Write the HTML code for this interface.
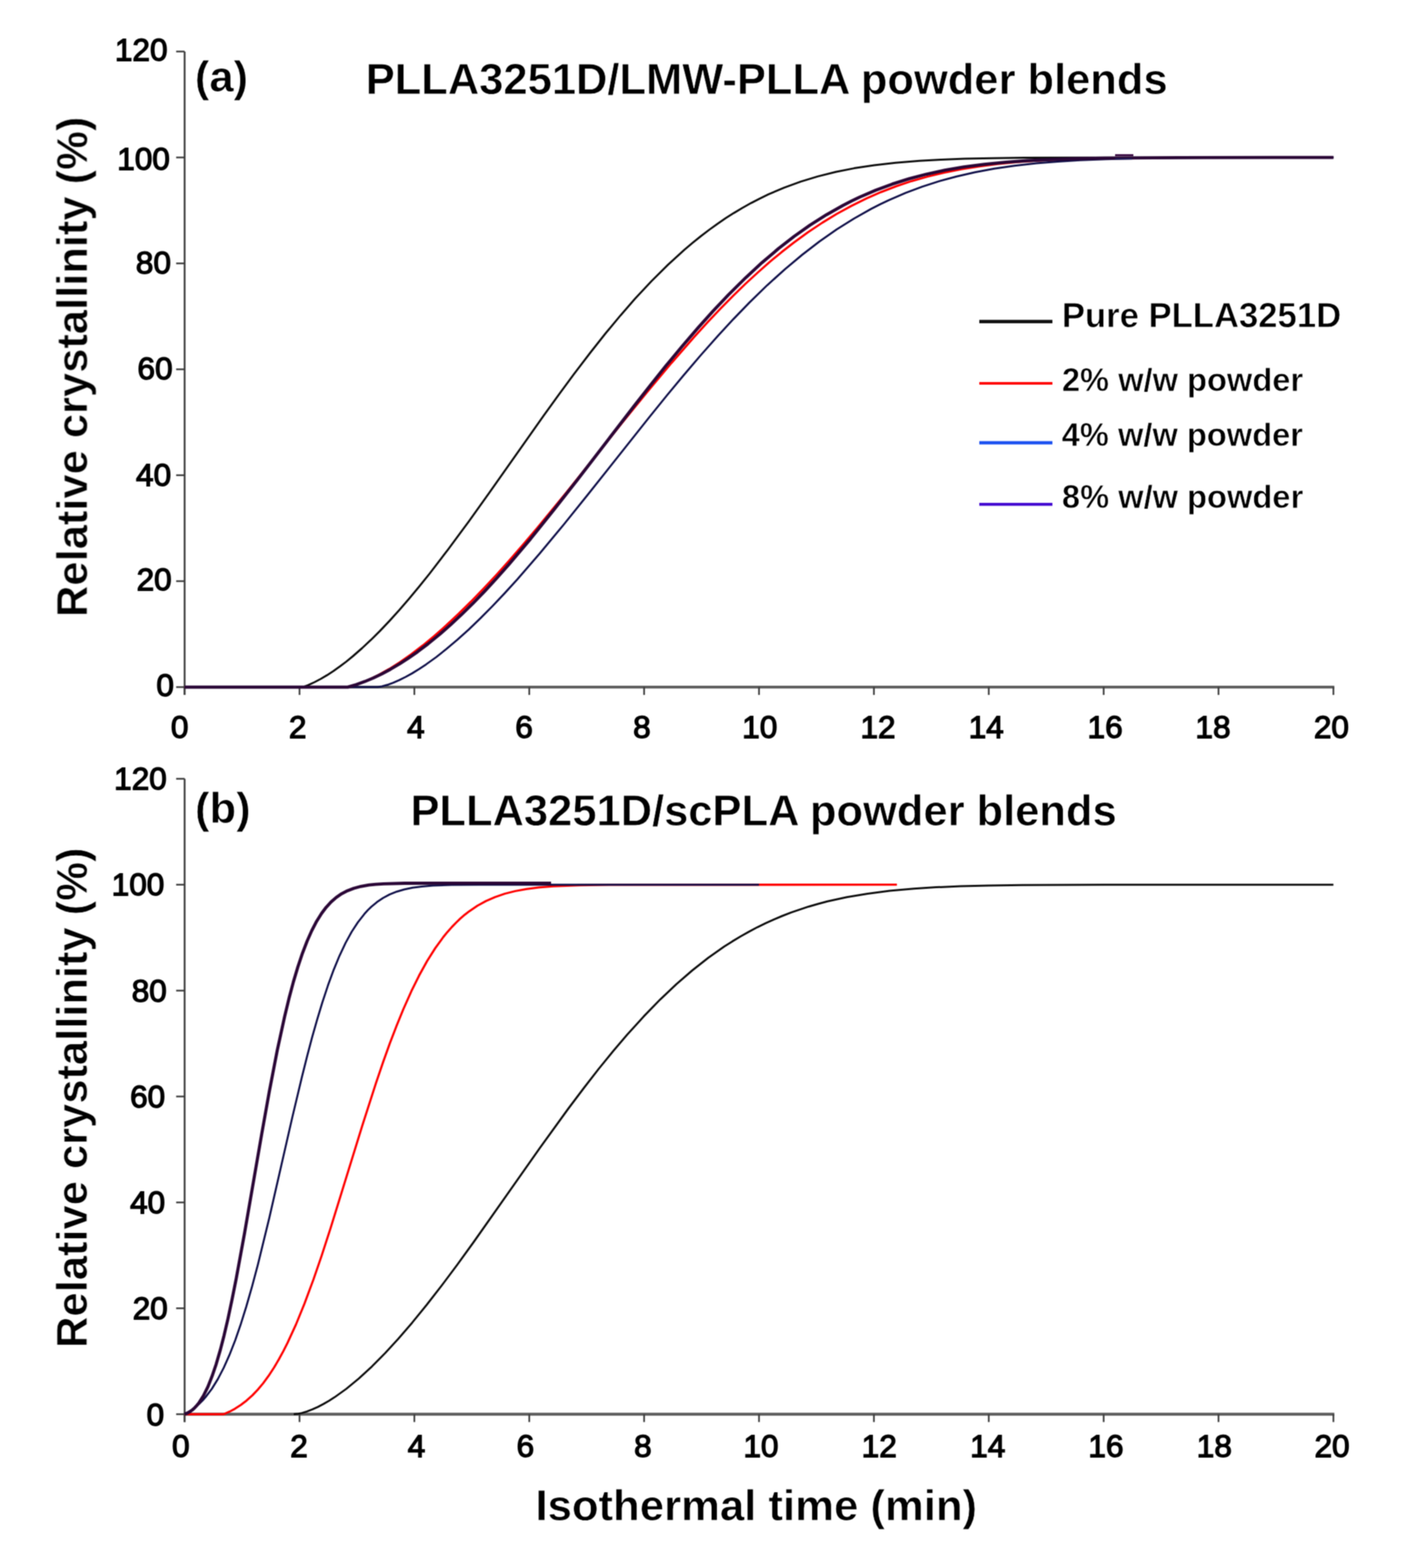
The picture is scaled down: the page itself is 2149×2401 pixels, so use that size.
<!DOCTYPE html>
<html><head><meta charset="utf-8"><title>Relative crystallinity vs isothermal time</title>
<style>html,body{margin:0;padding:0;background:#fff;}svg{display:block;}</style>
</head><body>
<svg width="2149" height="2401" viewBox="0 0 2149 2401"><defs><filter id="soft" x="0" y="0" width="2149" height="2401" filterUnits="userSpaceOnUse" color-interpolation-filters="sRGB"><feConvolveMatrix order="3" kernelMatrix="1 2 1 2 4 2 1 2 1" divisor="16.0" edgeMode="duplicate"/></filter></defs><rect width="2149" height="2401" fill="#fff"/><g filter="url(#soft)"><path d="M282.8,78.9 V1064.1" stroke="#3c3c3c" stroke-width="2.8" fill="none"/><path d="M281.40000000000003,1052.1 H2043.8" stroke="#5c5c5c" stroke-width="4.4" fill="none"/><path d="M269.8,1052.1 H282.8" stroke="#3c3c3c" stroke-width="2.6"/><path d="M269.8,889.9 H282.8" stroke="#3c3c3c" stroke-width="2.6"/><path d="M269.8,727.7 H282.8" stroke="#3c3c3c" stroke-width="2.6"/><path d="M269.8,565.5 H282.8" stroke="#3c3c3c" stroke-width="2.6"/><path d="M269.8,403.3 H282.8" stroke="#3c3c3c" stroke-width="2.6"/><path d="M269.8,241.1 H282.8" stroke="#3c3c3c" stroke-width="2.6"/><path d="M269.8,78.9 H282.8" stroke="#3c3c3c" stroke-width="2.6"/><path d="M282.8,1052.1 V1064.1" stroke="#3c3c3c" stroke-width="2.6"/><path d="M458.8,1052.1 V1064.1" stroke="#3c3c3c" stroke-width="2.6"/><path d="M634.7,1052.1 V1064.1" stroke="#3c3c3c" stroke-width="2.6"/><path d="M810.7,1052.1 V1064.1" stroke="#3c3c3c" stroke-width="2.6"/><path d="M986.6,1052.1 V1064.1" stroke="#3c3c3c" stroke-width="2.6"/><path d="M1162.6,1052.1 V1064.1" stroke="#3c3c3c" stroke-width="2.6"/><path d="M1338.6,1052.1 V1064.1" stroke="#3c3c3c" stroke-width="2.6"/><path d="M1514.5,1052.1 V1064.1" stroke="#3c3c3c" stroke-width="2.6"/><path d="M1690.5,1052.1 V1064.1" stroke="#3c3c3c" stroke-width="2.6"/><path d="M1866.4,1052.1 V1064.1" stroke="#3c3c3c" stroke-width="2.6"/><path d="M2042.4,1052.1 V1064.1" stroke="#3c3c3c" stroke-width="2.6"/><path d="M282.8,1052.1 464.0,1052.1 472.5,1048.9 481.9,1044.5 491.4,1039.5 500.9,1033.9 510.4,1027.8 520.9,1020.3 530.4,1013.1 540.9,1004.5 554.6,992.5 568.3,979.7 582.0,966.1 596.7,950.6 611.5,934.3 626.2,917.2 642.0,898.3 657.8,878.6 686.2,841.6 717.8,798.8 749.4,754.6 832.6,636.7 856.8,603.1 878.9,573.1 904.2,540.0 927.3,510.8 950.5,482.9 972.6,457.6 997.9,430.5 1023.2,405.4 1048.4,382.4 1061.1,371.7 1073.7,361.5 1086.3,351.9 1099.0,342.7 1111.6,334.1 1124.2,326.1 1136.9,318.5 1150.6,310.8 1163.2,304.3 1176.9,297.7 1201.1,287.3 1226.4,278.1 1252.7,270.1 1280.1,263.3 1308.5,257.6 1339.0,253.0 1371.7,249.2 1408.5,246.3 1441.2,244.5 1478.0,243.1 1520.1,242.2 1569.6,241.6 1692.8,241.2 2042.4,241.1" stroke="#0a0a0a" stroke-width="3.0" fill="none" stroke-linejoin="round"/><path d="M282.8,1052.1 532.7,1052.1 540.0,1050.2 547.3,1047.9 562.6,1041.9 579.5,1033.8 596.3,1024.3 613.1,1013.6 629.9,1001.8 647.5,988.4 665.0,973.9 683.3,957.8 702.3,940.0 721.3,921.3 741.1,900.9 760.1,880.5 779.8,858.5 801.1,834.1 823.0,808.3 867.6,754.0 953.9,646.3 990.5,601.3 1028.5,555.8 1063.6,515.7 1084.1,493.2 1103.8,472.4 1122.8,453.1 1141.8,434.6 1160.9,417.1 1179.1,401.0 1197.4,385.9 1215.7,371.6 1237.6,355.6 1259.6,341.0 1281.5,327.6 1304.2,315.2 1326.9,304.0 1349.5,294.1 1372.9,285.1 1396.3,277.3 1420.5,270.5 1446.1,264.3 1472.4,259.1 1499.5,254.8 1528.0,251.2 1558.7,248.2 1592.3,245.9 1628.9,244.1" stroke="#ff0000" stroke-width="3.3" fill="none" stroke-linejoin="round"/><path d="M282.8,1052.1 578.4,1052.1 585.2,1050.9 593.1,1048.8 601.9,1045.6 611.6,1041.4 621.4,1036.5 631.2,1031.1 641.9,1024.5 652.6,1017.4 668.3,1006.1 683.9,993.7 700.5,979.7 718.1,963.8 735.7,946.9 754.2,928.2 772.8,908.6 792.3,887.2 826.5,847.8 863.6,803.1 900.7,757.0 994.5,638.9 1021.8,605.1 1046.2,575.7 1073.6,543.6 1099.0,515.0 1123.4,488.6 1147.8,463.4 1175.1,436.8 1202.5,412.1 1228.9,390.0 1255.2,369.7 1281.6,351.3 1308.0,334.7 1334.3,319.9 1348.0,312.9 1361.7,306.4 1387.1,295.4 1412.5,285.9 1438.8,277.4 1465.2,270.2 1493.5,263.7 1522.8,258.3 1554.1,253.8 1587.3,250.1 1619.5,247.4 1654.7,245.3 1693.7,243.7 1737.7,242.6 1845.1,241.4 2042.4,241.1" stroke="#0e0e48" stroke-width="3.0" fill="none" stroke-linejoin="round"/><path d="M282.8,1052.1 532.7,1052.1 545.8,1048.3 558.8,1043.6 571.9,1038.1 585.0,1031.8 598.1,1024.8 612.2,1016.5 625.3,1008.0 639.4,998.2 655.5,986.0 672.7,972.0 689.8,957.0 706.9,941.1 724.0,924.3 742.2,905.5 760.3,885.9 779.4,864.3 812.7,825.1 848.9,780.1 884.2,734.9 971.8,621.0 997.0,588.9 1020.1,560.1 1045.3,529.7 1069.5,501.6 1092.6,475.8 1115.8,451.4 1142.0,425.4 1167.2,402.1 1192.4,380.7 1216.5,361.9 1240.7,344.8 1265.9,328.8 1291.1,314.6 1304.1,307.9 1317.2,301.6 1341.4,291.2 1366.6,281.9 1392.8,273.6 1419.0,266.8 1447.2,260.7 1476.4,255.7 1507.6,251.6 1540.8,248.3 1573.1,246.0 1608.3,244.3 1647.6,243.0 1692.9,242.1 1805.7,241.3 2042.4,241.1" stroke="#2a0636" stroke-width="4.8" fill="none" stroke-linejoin="round"/><path d="M1708,237.6 H1736" stroke="#3a0a42" stroke-width="3"/><path d="M1708,243.2 H1734" stroke="#1c1c58" stroke-width="2"/><path d="M282.8,1192.5 V2177.5" stroke="#3c3c3c" stroke-width="2.8" fill="none"/><path d="M281.40000000000003,2165.5 H2043.8" stroke="#5c5c5c" stroke-width="4.4" fill="none"/><path d="M269.8,2165.5 H282.8" stroke="#3c3c3c" stroke-width="2.6"/><path d="M269.8,2003.3 H282.8" stroke="#3c3c3c" stroke-width="2.6"/><path d="M269.8,1841.2 H282.8" stroke="#3c3c3c" stroke-width="2.6"/><path d="M269.8,1679.0 H282.8" stroke="#3c3c3c" stroke-width="2.6"/><path d="M269.8,1516.9 H282.8" stroke="#3c3c3c" stroke-width="2.6"/><path d="M269.8,1354.7 H282.8" stroke="#3c3c3c" stroke-width="2.6"/><path d="M269.8,1192.5 H282.8" stroke="#3c3c3c" stroke-width="2.6"/><path d="M282.8,2165.5 V2177.5" stroke="#3c3c3c" stroke-width="2.6"/><path d="M458.8,2165.5 V2177.5" stroke="#3c3c3c" stroke-width="2.6"/><path d="M634.7,2165.5 V2177.5" stroke="#3c3c3c" stroke-width="2.6"/><path d="M810.7,2165.5 V2177.5" stroke="#3c3c3c" stroke-width="2.6"/><path d="M986.6,2165.5 V2177.5" stroke="#3c3c3c" stroke-width="2.6"/><path d="M1162.6,2165.5 V2177.5" stroke="#3c3c3c" stroke-width="2.6"/><path d="M1338.6,2165.5 V2177.5" stroke="#3c3c3c" stroke-width="2.6"/><path d="M1514.5,2165.5 V2177.5" stroke="#3c3c3c" stroke-width="2.6"/><path d="M1690.5,2165.5 V2177.5" stroke="#3c3c3c" stroke-width="2.6"/><path d="M1866.4,2165.5 V2177.5" stroke="#3c3c3c" stroke-width="2.6"/><path d="M2042.4,2165.5 V2177.5" stroke="#3c3c3c" stroke-width="2.6"/><path d="M450.0,2165.5 455.1,2165.1 462.5,2163.6 470.0,2161.4 478.4,2158.2 486.9,2154.4 495.4,2149.9 503.9,2145.0 512.4,2139.6 530.5,2126.6 549.6,2110.9 569.8,2092.3 589.9,2072.0 610.1,2050.0 631.3,2025.4 653.6,1998.0 677.0,1967.9 700.4,1936.6 725.8,1901.5 826.7,1758.2 870.2,1698.0 894.7,1665.5 916.9,1636.9 939.2,1609.5 960.5,1584.6 986.0,1556.4 1011.4,1530.3 1035.9,1507.1 1060.3,1486.0 1084.7,1466.8 1109.1,1449.6 1121.9,1441.4 1134.6,1433.8 1147.3,1426.6 1160.1,1419.8 1172.8,1413.6 1185.6,1407.8 1198.3,1402.5 1212.1,1397.2 1238.7,1388.2 1252.5,1384.2 1267.3,1380.3 1297.1,1373.8 1328.9,1368.4 1362.9,1364.1 1400.0,1360.7 1434.0,1358.6 1471.2,1357.1 1514.7,1356.0 1565.7,1355.3 1692.0,1354.8 2042.4,1354.7" stroke="#0a0a0a" stroke-width="3.0" fill="none" stroke-linejoin="round"/><path d="M282.8,2165.5 342.6,2165.5 351.6,2161.6 359.8,2157.2 368.8,2151.4 377.7,2144.6 386.7,2136.5 394.9,2127.9 403.2,2118.0 411.4,2106.8 419.7,2094.2 427.2,2081.4 434.1,2068.8 440.3,2056.5 453.4,2028.0 466.4,1996.1 480.2,1959.0 492.6,1923.0 506.3,1880.8 555.2,1722.8 575.8,1658.7 586.8,1626.4 597.1,1597.6 607.5,1570.6 617.8,1545.4 630.2,1517.6 641.9,1493.9 654.2,1471.6 666.6,1452.0 679.0,1434.9 685.2,1427.3 692.1,1419.5 698.3,1413.1 705.1,1406.5 712.0,1400.6 718.9,1395.3 731.3,1386.9 744.3,1379.7 758.1,1373.7 773.2,1368.5 789.1,1364.5 806.3,1361.3 825.5,1358.8 847.5,1357.1 887.4,1355.5 945.2,1354.8 1373.8,1354.7" stroke="#ff0000" stroke-width="3.3" fill="none" stroke-linejoin="round"/><path d="M282.8,2165.5 288.7,2162.2 294.5,2158.4 299.8,2154.3 305.1,2149.7 310.4,2144.4 315.1,2139.0 324.5,2126.6 333.9,2111.4 342.7,2094.4 351.5,2074.7 360.3,2052.2 368.5,2028.6 377.3,2000.5 386.1,1969.9 394.9,1936.8 412.5,1864.8 447.7,1711.0 462.4,1649.3 470.6,1616.7 478.2,1587.9 485.9,1560.9 493.5,1535.7 502.3,1509.1 511.1,1485.1 519.9,1463.8 529.3,1443.9 538.7,1426.8 548.1,1412.4 558.1,1399.6 563.3,1393.8 568.6,1388.6 577.4,1381.3 586.8,1375.0 596.8,1369.7 608.0,1365.2 619.1,1362.0 632.0,1359.3 646.1,1357.4 663.1,1356.1 691.3,1355.1 733.6,1354.8 1162.6,1354.7" stroke="#0e0e48" stroke-width="3.0" fill="none" stroke-linejoin="round"/><path d="M282.8,2165.5 286.9,2163.8 290.7,2161.7 294.4,2159.1 298.2,2155.7 301.5,2152.1 304.9,2147.9 311.6,2137.3 318.4,2123.6 324.7,2107.7 331.1,2088.9 337.5,2067.0 343.1,2045.3 349.1,2019.7 355.4,1990.0 361.8,1958.0 374.5,1888.7 400.8,1736.8 412.4,1672.0 424.7,1608.2 436.0,1556.5 442.7,1528.7 449.4,1503.5 456.2,1480.8 463.3,1459.6 470.4,1441.1 477.5,1425.1 485.0,1410.7 492.5,1398.8 499.6,1389.3 507.1,1381.1 515.0,1374.2 523.2,1368.6 532.2,1363.9 541.9,1360.2 552.8,1357.3 565.1,1355.2 575.6,1354.1 587.6,1353.3 619.8,1352.5 844.1,1352.3" stroke="#2a0636" stroke-width="4.8" fill="none" stroke-linejoin="round"/><path d="M1500,492.4 H1612" stroke="#111111" stroke-width="5.4"/><path d="M1500,587.0 H1612" stroke="#ff0000" stroke-width="4.2"/><path d="M1500,678.0 H1612" stroke="#1a50f0" stroke-width="4.8"/><path d="M1500,772.2 H1612" stroke="#4208d0" stroke-width="4.4"/><g font-family="'Liberation Sans', Arial, Helvetica, sans-serif" font-weight="bold" fill="#000" stroke="#fff" stroke-width="0.8"><text x="298.5" y="139.5" font-size="66.6" text-anchor="start" >(a)</text><text x="560.2" y="143.6" font-size="66.6" text-anchor="start" >PLLA3251D/LMW-PLLA powder blends</text><text x="298.8" y="1260.3" font-size="66.6" text-anchor="start" >(b)</text><text x="628.7" y="1263.6" font-size="66.6" text-anchor="start" >PLLA3251D/scPLA powder blends</text><text x="820.2" y="2328.4" font-size="66.9" text-anchor="start" >Isothermal time (min)</text><text transform="translate(133.5,944.8) rotate(-90)" font-size="66.6">Relative crystallinity (%)</text><text transform="translate(133.2,2064.0) rotate(-90)" font-size="66.6">Relative crystallinity (%)</text><text x="1626.4" y="501.0" font-size="53.1" text-anchor="start" >Pure PLLA3251D</text><text x="1626.5" y="599.2" font-size="50" text-anchor="start" >2% w/w powder</text><text x="1626.3" y="683.4" font-size="50" text-anchor="start" >4% w/w powder</text><text x="1626.6" y="778.4" font-size="50" text-anchor="start" >8% w/w powder</text></g><g font-family="'Liberation Sans', Arial, Helvetica, sans-serif" font-weight="normal" fill="#000" stroke="#000" stroke-width="1.8"><text x="266.3" y="1066.1" font-size="48.4" text-anchor="end" >0</text><text x="263.0" y="903.9" font-size="48.4" text-anchor="end" >20</text><text x="262.1" y="743.7" font-size="48.4" text-anchor="end" >40</text><text x="264.4" y="580.5" font-size="48.4" text-anchor="end" >60</text><text x="261.8" y="419.3" font-size="48.4" text-anchor="end" >80</text><text x="260.3" y="259.6" font-size="48.4" text-anchor="end" >100</text><text x="256.7" y="92.9" font-size="48.4" text-anchor="end" >120</text><text x="251.5" y="2182.5" font-size="48.4" text-anchor="end" >0</text><text x="257.0" y="2020.3" font-size="48.4" text-anchor="end" >20</text><text x="253.0" y="1858.2" font-size="48.4" text-anchor="end" >40</text><text x="253.0" y="1696.0" font-size="48.4" text-anchor="end" >60</text><text x="255.5" y="1533.9" font-size="48.4" text-anchor="end" >80</text><text x="251.8" y="1371.2" font-size="48.4" text-anchor="end" >100</text><text x="255.5" y="1209.0" font-size="48.4" text-anchor="end" >120</text><text x="275.3" y="1129.6" font-size="48.4" text-anchor="middle" >0</text><text x="456.0" y="1129.6" font-size="48.4" text-anchor="middle" >2</text><text x="636.9" y="1129.6" font-size="48.4" text-anchor="middle" >4</text><text x="802.7" y="1129.6" font-size="48.4" text-anchor="middle" >6</text><text x="983.2" y="1129.6" font-size="48.4" text-anchor="middle" >8</text><text x="1163.7" y="1129.6" font-size="48.4" text-anchor="middle" >10</text><text x="1344.8" y="1129.6" font-size="48.4" text-anchor="middle" >12</text><text x="1510.6" y="1129.6" font-size="48.4" text-anchor="middle" >14</text><text x="1692.7" y="1129.6" font-size="48.4" text-anchor="middle" >16</text><text x="1858.0" y="1129.6" font-size="48.4" text-anchor="middle" >18</text><text x="2039.3" y="1129.6" font-size="48.4" text-anchor="middle" >20</text><text x="277.0" y="2230.6" font-size="48.4" text-anchor="middle" >0</text><text x="457.9" y="2230.6" font-size="48.4" text-anchor="middle" >2</text><text x="638.0" y="2230.6" font-size="48.4" text-anchor="middle" >4</text><text x="804.6" y="2230.6" font-size="48.4" text-anchor="middle" >6</text><text x="984.6" y="2230.6" font-size="48.4" text-anchor="middle" >8</text><text x="1165.6" y="2230.6" font-size="48.4" text-anchor="middle" >10</text><text x="1346.7" y="2230.6" font-size="48.4" text-anchor="middle" >12</text><text x="1512.9" y="2230.6" font-size="48.4" text-anchor="middle" >14</text><text x="1694.0" y="2230.6" font-size="48.4" text-anchor="middle" >16</text><text x="1860.0" y="2230.6" font-size="48.4" text-anchor="middle" >18</text><text x="2040.3" y="2230.6" font-size="48.4" text-anchor="middle" >20</text></g></g></svg>
</body></html>
